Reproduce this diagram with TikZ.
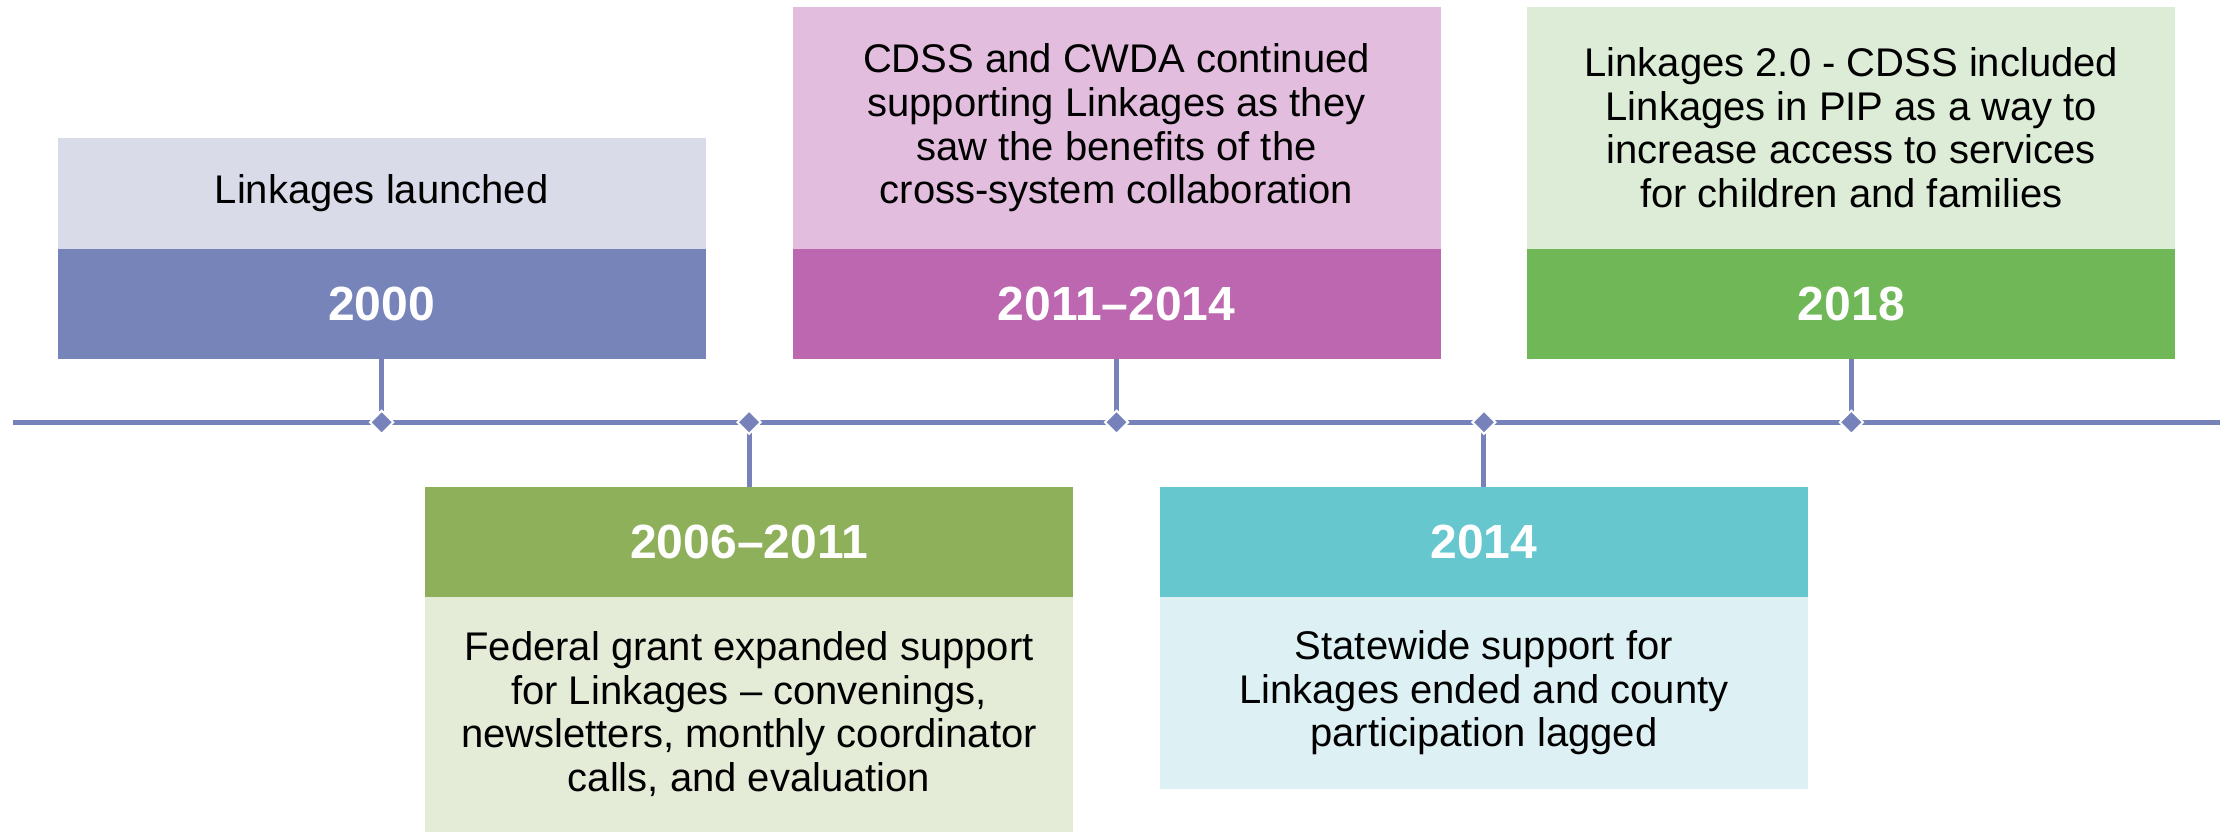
\documentclass[tikz,border=0pt]{standalone}
\usepackage{fontspec}
\setmainfont{Liberation Sans}
\usetikzlibrary{positioning,shapes.geometric}
\definecolor{lineblue}{RGB}{119,130,187}
\definecolor{dk2000}{RGB}{119,132,186}
\definecolor{lt2000}{RGB}{217,219,233}
\definecolor{dk2006}{RGB}{143,176,91}
\definecolor{lt2006}{RGB}{228,236,215}
\definecolor{dk2011}{RGB}{188,103,176}
\definecolor{lt2011}{RGB}{226,189,222}
\definecolor{dk2014}{RGB}{102,199,207}
\definecolor{lt2014}{RGB}{221,241,244}
\definecolor{dk2018}{RGB}{112,184,87}
\definecolor{lt2018}{RGB}{220,236,215}
\newcommand{\dpx}{0.712pt}
\tikzstyle{yearbox}=[rectangle,inner sep=0pt,outer sep=0pt,
                     minimum width=455*\dpx,minimum height=77*\dpx,
                     text=white,font=\fontsize{24}{28}\selectfont\bfseries]
\tikzstyle{notebox}=[rectangle,inner sep=0pt,outer sep=0pt,
                     minimum width=455*\dpx,align=center,
                     font=\fontsize{20}{21.8}\selectfont]
\tikzstyle{stone}=[diamond,draw=white,fill=lineblue,line width=1pt,
                   inner sep=0pt,minimum size=12pt]
\tikzstyle{link}=[draw=lineblue,line width=2.5pt]

\begin{document}
\begin{tikzpicture}[x=\dpx,y=-\dpx]
    \useasboundingbox (0,0) rectangle (1568,584);
    % years on the time line
    \node (y2000) at ( 268,213.3) [yearbox,fill=dk2000]{2000};
    \node (y2006) at ( 526,380.5) [yearbox,fill=dk2006]{2006–2011};
    \node (y2011) at ( 784,213.3) [yearbox,fill=dk2011]{2011–2014};
    \node (y2014) at (1042,380.5) [yearbox,fill=dk2014]{2014};
    \node (y2018) at (1300,213.3) [yearbox,fill=dk2018]{2018};
    % what happened
    \node (t2000) [notebox,fill=lt2000,minimum height=78*\dpx,above=0pt of y2000]
        {Linkages launched};
    \node (t2006) [notebox,fill=lt2006,minimum height=165*\dpx,below=0pt of y2006]
        {Federal grant expanded support\\for Linkages – convenings,\\newsletters, monthly coordinator\\calls, and evaluation};
    \node (t2011) [notebox,fill=lt2011,minimum height=170*\dpx,above=0pt of y2011]
        {CDSS and CWDA continued\\supporting Linkages as they\\saw the benefits of the\\cross-system collaboration};
    \node (t2014) [notebox,fill=lt2014,minimum height=135*\dpx,below=0pt of y2014]
        {Statewide support for\\Linkages ended and county\\participation lagged};
    \node (t2018) [notebox,fill=lt2018,minimum height=170*\dpx,above=0pt of y2018]
        {Linkages 2.0 - CDSS included\\Linkages in PIP as a way to\\increase access to services\\for children and families};
    % time line
    \coordinate (tl-a) at (9,296.5);
    \coordinate (tl-b) at (1559,296.5);
    \foreach \x [count=\i] in {268,526,784,1042,1300}
        \coordinate (d\i) at (\x,296.5);
    \draw[link] (tl-a) -- (tl-b);
    \draw[link] (y2000.south) -- (d1) (d2) -- (y2006.north)
                (y2011.south) -- (d3) (d4) -- (y2014.north)
                (y2018.south) -- (d5);
    \foreach \i in {1,...,5}
        \node (s\i) at (d\i) [stone]{};
\end{tikzpicture}
\end{document}
